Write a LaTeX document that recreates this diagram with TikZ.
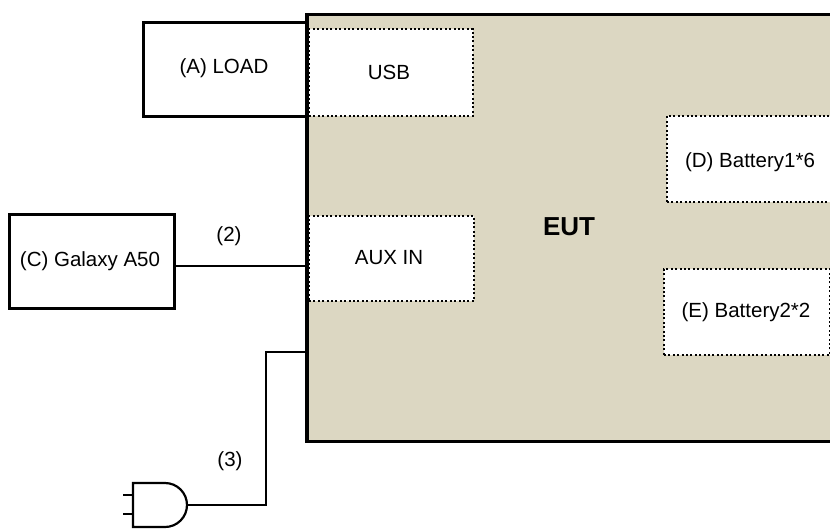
\documentclass[tikz,border=0pt]{standalone}
\usepackage{fontspec}
\setmainfont{Liberation Sans}
\definecolor{eutfill}{RGB}{220,215,194}
\tikzset{
  solidbox/.style={draw=black, line width=2.5pt, fill=white, inner sep=0pt},
  dotbox/.style={draw=black, line width=2pt, dash pattern=on 2pt off 2.4pt, fill=white, inner sep=0pt},
  wire/.style={draw=black, line width=2pt},
  lbl/.style={font=\fontsize{20.5}{24}\selectfont, inner sep=0pt}
}
\begin{document}
\begin{tikzpicture}[x=1pt,y=-1pt]
\useasboundingbox (0,0) rectangle (830,528);
\clip (0,0) rectangle (830,528);
% EUT
\node[solidbox, fill=eutfill, line width=3pt, minimum width=560pt, minimum height=427pt, anchor=north west] (eut) at (306,13) {};
\node[font=\fontsize{26}{30}\selectfont\bfseries, inner sep=0pt] (eutlbl) at (569,227) {EUT};
% LOAD
\node[solidbox, minimum width=164pt, minimum height=94pt, anchor=north west] (load) at (142,21) {};
\node[lbl] (loadlbl) at (224,68) {(A) LOAD};
% redraw EUT left border over load
\draw[line width=3pt] (eut.north west) -- (eut.south west);
% USB
\node[dotbox, minimum width=164pt, minimum height=87pt, anchor=north west] (usb) at (308,28) {};
\node[lbl] (usblbl) at (389,72) {USB};
% AUX IN
\node[dotbox, minimum width=165pt, minimum height=85pt, anchor=north west] (aux) at (308,215) {};
\node[lbl] (auxlbl) at (389,258) {AUX IN};
% D
\node[dotbox, minimum width=168pt, minimum height=86pt, anchor=north west] (bat1) at (666,115) {};
\node[lbl] (bat1lbl) at (750,162) {(D) Battery1*6};
% E
\node[dotbox, minimum width=166pt, minimum height=86pt, anchor=north west] (bat2) at (663,268) {};
\node[lbl] (bat2lbl) at (746,312) {(E) Battery2*2};
% Galaxy
\node[solidbox, line width=3pt, minimum width=165pt, minimum height=94pt, anchor=north west] (gal) at (8,213) {};
\node[lbl] (gallbl) at (90,261) {(C) Galaxy A50};
% connector (2)
\coordinate (c2) at (0,266);
\draw[wire] (gal.east |- c2) -- (eut.west |- c2);
\node[lbl] (l2) at (229,236) {(2)};
% plug
\coordinate (plugtip) at (187,505);
\draw[line width=2.2pt, fill=white] (133,483) -- (165,483) arc[start angle=90, end angle=-90, radius=22pt] -- (133,527) -- cycle;
\draw[line width=2.2pt] (123,495) -- (133,495) (123,514) -- (133,514);
\coordinate (bend) at (266,352);
\draw[wire] (plugtip) -| (bend) -- (eut.west |- bend);
\node[lbl] (l3) at (230,461) {(3)};
\end{tikzpicture}
\end{document}
